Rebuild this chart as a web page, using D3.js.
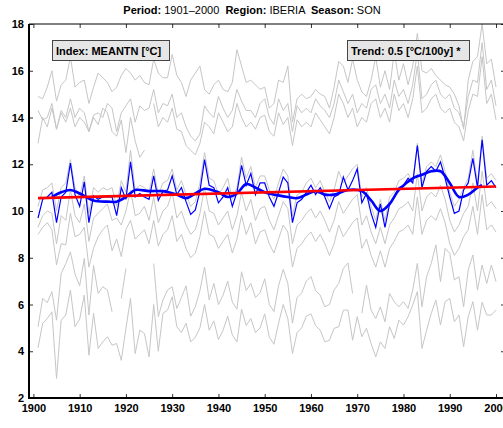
<!DOCTYPE html>
<html>
<head>
<meta charset="utf-8">
<script src="https://cdn.jsdelivr.net/npm/d3@7"></script>
<style>
  body { margin: 0; background: #fff; }
  svg text { font-family: "Liberation Sans", Arial, sans-serif; }
</style>
</head>
<body>
<svg width="503" height="428"></svg>
<script>
// years 1901..2000
let years = d3.range(1901, 2001);

// IBERIA SON mean TN (blue)
let meantn = [9.7, 10.5, 10.6, 10.8, 9.5, 10.6, 10.8, 12.05, 10.7, 10.2,
    11.25, 9.5, 10.65, 10.5, 10.6, 10.6, 10.6, 9.8, 11.0, 10.5,
    12.1, 10.6, 10.75, 10.6, 10.5, 11.5, 10.45, 10.85, 10.9, 11.5,
    10.7, 11.0, 10.4, 9.85, 10.05, 10.85, 12.2, 11.1, 11.0, 10.35,
    10.6, 11.0, 10.2, 10.8, 11.95, 11.1, 11.6, 10.7, 11.2, 11.2,
    10.6, 10.2, 10.8, 11.45, 11.2, 9.5, 10.35, 10.5, 10.8, 11.1,
    10.7, 11.0, 10.6, 10.1, 10.6, 10.7, 11.45, 10.9, 11.3, 11.8,
    10.35, 10.75, 9.9, 9.3, 10.3, 9.3, 10.3, 10.6, 11.0, 11.1,
    11.4, 11.2, 12.8, 11.0, 11.7, 11.9, 11.7, 12.1, 11.4, 10.6,
    9.9, 10.0, 10.9, 11.2, 12.25, 11.0, 13.05, 11.1, 11.3, 11.0];

// smoothed curve
let smoothYears = [1904, 1906, 1908, 1910, 1913, 1916, 1918, 1920, 1922, 1925, 1928, 1931, 1933,
    1935, 1937, 1940, 1942, 1944, 1946, 1948, 1950, 1952, 1955, 1957, 1959, 1961, 1963,
    1965, 1968, 1971, 1973, 1975, 1977, 1979, 1982, 1984, 1986, 1988, 1990, 1992, 1994, 1996, 1997];
let smoothVals = [10.6, 10.8, 10.9, 10.75, 10.45, 10.4, 10.4, 10.6, 10.9, 10.85, 10.85, 10.7, 10.55,
    10.75, 10.95, 10.8, 10.6, 10.75, 11.15, 11.0, 10.8, 10.7, 10.6, 10.55, 10.7, 10.85, 10.7,
    10.7, 10.9, 10.85, 10.45, 10.0, 10.3, 10.9, 11.4, 11.55, 11.7, 11.7, 11.2, 10.6, 10.7, 11.0, 11.1];

// linear trend end points
let trendYears = [1901, 2000];
let trendVals = [10.55, 11.05];

// grey background series (other indices of the region)
let grey1 = [14.9, 14.8, 15.3, 16.0, 14.7, 15.4, 15.6, 16.6, 15.3, 15.5,
    15.6, 14.6, 15.3, 15.9, 15.7, 15.5, 15.1, 15.3, 15.8, 16.1,
    15.9, 15.6, 15.8, 15.5, 15.4, 16.5, 15.9, 15.7, 15.7, 16.7,
    15.8, 15.5, 14.9, 15.6, 15.9, 16.2, 15.2, 15.0, 15.4, 15.6,
    15.2, 15.1, 15.5, 16.9, 16.2, 15.5, 15.6, 15.4, 15.2, 15.3,
    14.4, 14.6, 15.6, 15.5, 16.2, 13.8, 14.8, 15.0, 14.8, 14.9,
    15.2, 15.0, 14.9, 14.4, 15.3, 16.4, 16.2, 15.5, 16.5, 15.6,
    15.1, 14.9, 15.6, 16.6, 15.3, 16.0, 15.2, 16.8, 15.6, 16.3,
    15.4, 16.2, 17.6, 16.0, 15.9, 16.1, 15.8, 15.6, 15.4, 15.3,
    15.0, 14.5, 13.5, 15.6, 16.4, 16.6, 18.0, 16.3, 16.5, 15.3];
let grey2 = [14.3, 13.9, 14.0, 14.6, 13.5, 14.3, 14.0, 14.8, 14.0, 14.4,
    14.2, 13.4, 14.1, 14.2, 14.0, 14.6, 14.4, 13.4, 14.2, 14.5,
    14.8, 13.8, 14.5, 14.3, 14.4, 15.2, 14.2, 14.6, 14.5, 15.0,
    14.0, 14.2, 13.6, 13.2, 13.0, 13.3, 14.5, 14.2, 14.0, 14.9,
    14.4, 14.0, 14.3, 15.2, 14.7, 14.3, 14.3, 14.0, 14.6, 14.8,
    14.0, 13.7, 14.8, 14.3, 14.6, 13.4, 14.5, 14.2, 14.4, 14.2,
    14.8, 14.5, 14.3, 14.0, 14.6, 15.6, 15.1, 14.6, 15.0, 14.2,
    14.6, 14.4, 15.2, 15.4, 14.6, 15.0, 14.4, 15.6, 14.9, 15.2,
    14.6, 15.4, 16.8, 14.8, 15.0, 15.4, 15.6, 15.0, 14.8, 15.0,
    14.4, 14.2, 13.6, 14.9, 15.6, 15.5, 17.2, 15.2, 15.6, 14.5];
let grey3 = [12.9, 14.0, 13.6, 14.4, 13.5, 14.2, 13.8, 14.4, 13.6, 14.0,
    13.8, 13.4, 14.0, 13.7, 14.4, 14.2, 13.4, 13.2, 13.9, 12.5,
    14.0, 13.0, 12.3, 12.6, null, 14.6, 13.6, 14.0, 13.8, 14.4,
    13.5, 13.4, 12.8, 12.6, 12.4, 12.9, 13.8, 13.6, 13.3, 14.2,
    13.8, 13.4, 13.6, 14.6, 14.0, 13.6, 13.8, 13.5, 14.0, 14.1,
    13.4, 13.2, 14.2, 13.7, 14.0, 12.8, 13.9, 13.6, 13.8, 13.6,
    14.2, 13.9, 13.6, 13.3, 14.0, 15.0, 14.6, 14.0, 14.4, 13.6,
    14.0, 13.8, 14.6, 14.8, 14.0, 14.4, 13.8, 15.0, 14.3, 14.6,
    14.0, 14.8, 16.2, 14.2, 14.4, 14.8, 15.0, 14.4, 14.2, 14.4,
    13.8, 13.6, 13.0, 14.3, 15.0, 14.9, 16.6, 14.6, 15.0, 13.9];
let grey4 = [10.2, 10.9, 11.0, 11.2, 10.0, 11.0, 11.2, 12.2, 11.0, 10.6,
    11.5, 9.9, 11.0, 10.8, 11.0, 10.9, 11.0, 10.2, 11.3, 10.8,
    12.6, 10.9, 11.1, 11.0, 10.8, 11.8, 10.7, 11.2, 11.3, 11.8,
    10.9, 11.3, 10.7, 10.2, 10.4, 11.2, 12.5, 11.4, 11.3, 10.7,
    11.0, 11.4, 10.5, 11.0, 12.3, 11.4, 11.9, 11.0, 11.5, 11.5,
    10.9, 10.5, 11.2, 11.8, 11.5, 9.8, 10.7, 10.8, 11.2, 11.4,
    11.0, 11.3, 10.8, 10.4, 10.9, 11.7, 11.2, 11.5, 11.8, 12.0,
    10.6, 11.0, 10.2, 9.6, 10.5, 9.6, 10.6, 10.8, 11.3, 11.4,
    11.6, 11.2, 12.9, 11.2, 11.9, 12.1, 11.9, 12.4, 11.7, 10.8,
    10.2, 10.5, 11.0, 11.4, 12.6, 11.2, 13.2, 11.4, 11.6, 11.3];
let grey5 = [9.3, 9.8, 10.0, 9.9, 8.6, 9.8, 9.6, 10.9, 9.8, 9.5,
    10.3, 8.7, 9.7, 9.9, 10.1, 10.3, 9.6, 9.7, 9.4, 10.0,
    10.9, 9.8, 9.9, 10.2, 9.6, 10.6, 9.5, 10.0, 10.2, 10.8,
    9.7, 10.0, 9.4, 9.0, 9.2, 9.9, 11.0, 10.0, 9.9, 9.4,
    9.7, 10.0, 9.2, 9.8, 10.8, 10.0, 10.5, 9.6, 10.1, 10.2,
    9.6, 9.2, 9.8, 10.4, 10.1, 8.6, 9.4, 9.6, 9.9, 10.1,
    9.7, 10.0, 9.6, 9.1, 9.6, 10.4, 9.9, 10.2, 10.5, 10.7,
    9.4, 9.8, 9.1, 8.6, 9.3, 8.6, 9.4, 9.7, 10.1, 10.2,
    10.4, 10.0, 11.6, 10.0, 10.6, 10.8, 10.6, 11.1, 10.5, 9.6,
    9.1, 9.4, 9.9, 10.2, 11.2, 10.0, 11.7, 10.2, 10.4, 10.1];
let grey6 = [9.0, 9.3, 9.5, 9.2, 7.7, 8.6, 8.55, 9.9, 8.9, 9.0,
    9.3, 7.6, 8.4, 8.9, 9.2, 9.4, 8.3, 8.8, 8.05, 9.2,
    9.6, 8.8, 9.0, 9.2, 8.6, 9.6, 8.5, 9.0, 9.2, 9.8,
    8.7, 9.0, 8.4, 8.0, 8.2, 8.9, 10.0, 9.0, 8.9, 8.4,
    8.7, 9.0, 8.2, 8.8, 9.8, 9.0, 9.5, 8.6, 9.1, 9.2,
    8.6, 8.2, 8.8, 9.4, 9.1, 7.6, 8.4, 8.6, 8.9, 9.1,
    8.7, 9.0, 8.6, 8.1, 8.6, 9.4, 8.9, 9.2, 9.5, 9.7,
    8.4, 8.8, 8.1, 7.6, 8.3, 7.6, 8.4, 8.7, 9.1, 9.2,
    9.4, 9.0, 10.6, 9.0, 9.6, 9.8, 9.6, 10.1, 9.5, 8.6,
    8.1, 8.4, 8.9, 9.2, 10.2, 9.0, 10.7, 9.2, 9.4, 9.1];
let grey7 = [5.05, 6.26, 6.08, 6.55, 5.33, 7.32, 7.75, 8.25, 7.3, 6.8,
    7.97, 5.55, 7.67, 6.47, 6.76, 6.62, 5.69, null, 6.26, 7.54,
    null, null, null, null, null, 7.75, 5.48, 6.19, 6.62, 6.76,
    5.83, 6.3, 6.8, 5.5, 5.9, 6.6, 7.6, 6.2, 6.9, 6.0,
    6.4, 7.0, 6.1, 5.8, 7.4, 6.6, 6.9, 6.3, 6.5, 7.1,
    6.0, 5.7, 6.8, 7.5, 6.9, 5.2, 6.3, 6.5, 7.0, 7.2,
    6.6, 6.4, 5.9, 6.0, 6.62, 6.9, 7.54, 7.78, 6.47, null,
    5.62, 6.83, 5.76, 5.4, 5.9, 5.26, 6.47, 6.12, 5.9, 6.12,
    5.83, 6.62, 7.76, 5.9, 7.19, 7.76, 8.55, 6.98, 8.4, 8.19,
    7.05, 7.19, 5.9, 7.48, 8.12, 6.62, 7.69, 6.9, 7.69, 6.98];
let grey8 = [4.15, 5.19, 5.4, 5.69, 2.84, 5.33, 5.55, 6.62, 5.05, 5.37,
    6.4, 3.83, 5.62, 4.12, 4.4, 4.62, 4.26, 4.33, 3.61, 4.97,
    6.26, 3.9, 4.9, 4.76, 3.76, 6.0, 4.0, 5.62, 5.76, 6.33,
    5.05, 4.8, 5.2, 4.4, 4.6, 5.0, 6.0, 4.9, 5.3, 4.5,
    4.9, 5.5, 4.7, 4.4, 5.8, 5.1, 5.4, 4.8, 5.0, 5.6,
    4.6, 4.3, 5.2, 6.0, 5.4, 3.9, 4.8, 5.0, 5.5, 5.6,
    5.1, 4.9, 4.4, 4.47, 4.98, 5.05, 5.76, 5.76, 4.47, 5.48,
    4.62, 4.98, 4.33, 3.76, 4.4, 4.12, 5.05, 4.55, 5.33, 5.12,
    5.48, 5.98, 6.55, 4.12, 4.9, 5.62, 6.19, 5.12, 6.12, 6.26,
    5.26, 5.55, 4.19, 5.48, 6.12, 4.9, 6.1, 5.55, 5.55, 5.76];
let greySeries = [grey1, grey2, grey3, grey4, grey5, grey6, grey7, grey8];

let xTicks = [1900, 1910, 1920, 1930, 1940, 1950, 1960, 1970, 1980, 1990, 2000];
let yTicks = [2, 4, 6, 8, 10, 12, 14, 16, 18];

let svg = d3.select("svg");

let pLeft = 29, pRight = 505, pTop = 24, pBottom = 398;

let x = d3.scaleLinear().domain([1900, 2000]).range([33.4, 496]);
let y = d3.scaleLinear().domain([2, 18]).range([pBottom, pTop]);

svg.append("defs").append("clipPath").attr("id", "plot")
    .append("rect").attr("x", pLeft).attr("y", pTop)
    .attr("width", pRight - pLeft).attr("height", pBottom - pTop);

// title
let title = svg.append("text")
    .attr("x", 252).attr("y", 14)
    .attr("text-anchor", "middle")
    .style("font-size", "11px");
let parts = [["Period: ", "bold"], ["1901\u20132000  ", "normal"], ["Region: ", "bold"],
    ["IBERIA  ", "normal"], ["Season: ", "bold"], ["SON", "normal"]];
parts.forEach(function (p) {
    title.append("tspan").attr("font-weight", p[1]).attr("xml:space", "preserve").text(p[0]);
});

let plot = svg.append("g").attr("clip-path", "url(#plot)");

let line = d3.line()
    .defined(function (d) { return d[1] !== null; })
    .x(function (d) { return x(d[0]); })
    .y(function (d) { return y(d[1]); });

// grey lines
greySeries.forEach(function (s) {
    plot.append("path")
        .datum(years.map(function (yr, i) { return [yr, s[i]]; }))
        .attr("fill", "none")
        .attr("stroke", "#c6c6c6")
        .attr("stroke-width", 1)
        .attr("d", line);
});

// blue yearly line
plot.append("path")
    .datum(years.map(function (yr, i) { return [yr, meantn[i]]; }))
    .attr("fill", "none")
    .attr("stroke", "#0000ff")
    .attr("stroke-width", 1.2)
    .attr("d", line);

// smoothed
let smoothLine = d3.line()
    .curve(d3.curveCatmullRom)
    .x(function (d) { return x(d[0]); })
    .y(function (d) { return y(d[1]); });
plot.append("path")
    .datum(smoothYears.map(function (yr, i) { return [yr, smoothVals[i]]; }))
    .attr("fill", "none")
    .attr("stroke", "#0000ff")
    .attr("stroke-width", 2.6)
    .attr("d", smoothLine);

// trend
plot.append("path")
    .datum(trendYears.map(function (yr, i) { return [yr, trendVals[i]]; }))
    .attr("fill", "none")
    .attr("stroke", "#ff0000")
    .attr("stroke-width", 2.6)
    .attr("d", line);

// axes
let xAxis = d3.axisBottom(x).tickValues(xTicks).tickSize(-4).tickFormat(d3.format("d"));
let gx = svg.append("g").attr("transform", "translate(0," + pBottom + ")").call(xAxis);
gx.select(".domain").remove();
gx.selectAll(".tick line").attr("stroke", "#333");
gx.selectAll("text").attr("y", 6).attr("dy", "0.71em")
    .style("font-size", "11px").style("font-weight", "bold").attr("fill", "#000");

let gxTop = svg.append("g").attr("transform", "translate(0," + pTop + ")")
    .call(d3.axisTop(x).tickValues(xTicks).tickSize(-4).tickFormat(""));
gxTop.select(".domain").remove();
gxTop.selectAll(".tick line").attr("stroke", "#333");

let yAxis = d3.axisLeft(y).tickValues(yTicks).tickSize(-4);
let gy = svg.append("g").attr("transform", "translate(" + pLeft + ",0)").call(yAxis);
gy.select(".domain").remove();
gy.selectAll(".tick line").attr("stroke", "#333");
gy.selectAll("text").attr("x", -5)
    .style("font-size", "11px").style("font-weight", "bold").attr("fill", "#000");

let gyR = svg.append("g").attr("transform", "translate(" + pRight + ",0)")
    .call(d3.axisRight(y).tickValues(yTicks).tickSize(-4).tickFormat(""));
gyR.select(".domain").remove();
gyR.selectAll(".tick line").attr("stroke", "#333");

// frame
svg.append("line").attr("x1", pLeft).attr("x2", pRight).attr("y1", pTop).attr("y2", pTop)
    .attr("stroke", "#000").attr("stroke-width", 1);
svg.append("line").attr("x1", pLeft).attr("x2", pLeft).attr("y1", pTop).attr("y2", pBottom + 1)
    .attr("stroke", "#000").attr("stroke-width", 2);
svg.append("line").attr("x1", pLeft - 1).attr("x2", pRight).attr("y1", pBottom).attr("y2", pBottom)
    .attr("stroke", "#000").attr("stroke-width", 2);

// label boxes
let boxes = [
    {text: "Index: MEANTN [\u00b0C]", x: 52, w: 117},
    {text: "Trend: 0.5 [\u00b0C/100y] *", x: 347, w: 122}
];
boxes.forEach(function (b) {
    svg.append("rect").attr("x", b.x + 0.5).attr("y", 40.5).attr("width", b.w).attr("height", 20)
        .attr("fill", "#e6e6e6").attr("stroke", "#444").attr("stroke-width", 1);
    svg.append("text").attr("x", b.x + 4).attr("y", 54.5)
        .style("font-size", "11px").style("font-weight", "bold").text(b.text);
});
</script>
</body>
</html>
